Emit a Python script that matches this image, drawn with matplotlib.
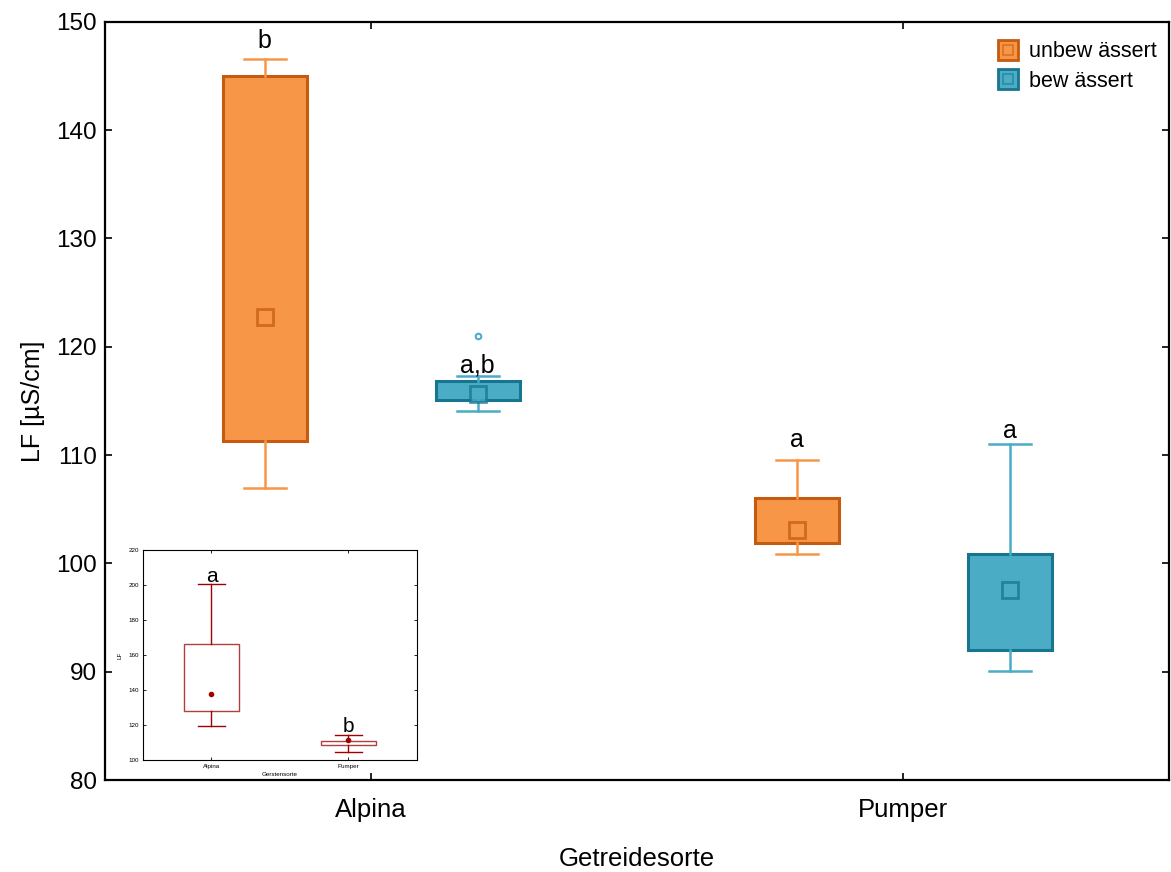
import matplotlib
matplotlib.use("Agg")
import matplotlib.pyplot as plt
from matplotlib.legend_handler import HandlerTuple
from matplotlib.lines import Line2D

plt.rcParams['font.family'] = ['Liberation Sans', 'DejaVu Sans']

# ---- data (main chart) ----
categories = ["Alpina", "Pumper"]
groups = ["unbew ässert", "bew ässert"]
# per group, per category
whisker_low = {"unbew ässert": [107.0, 100.9], "bew ässert": [114.1, 90.1]}
q1 = {"unbew ässert": [111.3, 101.9], "bew ässert": [115.1, 92.0]}
mean = {"unbew ässert": [122.7, 103.1], "bew ässert": [115.65, 97.55]}
q3 = {"unbew ässert": [145.0, 106.0], "bew ässert": [116.85, 100.9]}
whisker_high = {"unbew ässert": [146.6, 109.5], "bew ässert": [117.3, 111.0]}
outliers = {"unbew ässert": [[], []], "bew ässert": [[121.0], []]}
letters = {"unbew ässert": ["b", "a"], "bew ässert": ["a,b", "a"]}

# ---- data (inset chart) ----
inset_categories = ["Alpina", "Pumper"]
inset_whisker_low = [119.2, 104.8]
inset_q1 = [128.2, 108.4]
inset_mean = [137.5, 111.2]
inset_q3 = [166.3, 111.0]
inset_whisker_high = [200.4, 114.3]
inset_letters = ["a", "b"]

fill = {"unbew ässert": "#F79646", "bew ässert": "#4BACC6"}
edge = {"unbew ässert": "#C55A11", "bew ässert": "#17758F"}
offsets = {"unbew ässert": -0.2, "bew ässert": 0.2}
letter_pad = {"unbew ässert": [4, 6], "bew ässert": [-1, 1]}

fig = plt.figure(figsize=(11.71, 8.72), dpi=100)
ax = fig.add_axes([0.0897, 0.1055, 0.909, 0.8695])

for g in groups:
    stats = []
    for i in range(len(categories)):
        stats.append(dict(whislo=whisker_low[g][i], q1=q1[g][i], med=q1[g][i],
                          q3=q3[g][i], whishi=whisker_high[g][i], mean=mean[g][i],
                          fliers=outliers[g][i]))
    pos = [i + offsets[g] for i in range(len(categories))]
    ax.bxp(stats, positions=pos, widths=0.158, patch_artist=True, showmeans=True,
           showfliers=True, manage_ticks=False,
           boxprops=dict(facecolor=fill[g], edgecolor=edge[g], linewidth=2.2),
           whiskerprops=dict(color=fill[g], linewidth=1.8),
           capprops=dict(color=fill[g], linewidth=1.8),
           capwidths=0.079,
           medianprops=dict(linewidth=0),
           meanprops=dict(marker='s', markersize=11, markerfacecolor=fill[g],
                          markeredgecolor=edge[g], markeredgewidth=2, alpha=0.75),
           flierprops=dict(marker='o', markersize=4, markerfacecolor='white',
                           markeredgecolor=fill[g], markeredgewidth=1.5))
    for i in range(len(categories)):
        ax.annotate(letters[g][i], (i + offsets[g], whisker_high[g][i]),
                    xytext=(0, letter_pad[g][i]), textcoords='offset points',
                    ha='center', va='bottom', fontsize=18)

ax.set_xlim(-0.5, 1.5)
ax.set_ylim(80, 150)
ax.set_xticks(range(len(categories)))
ax.set_xticklabels(categories)
ax.set_yticks(range(80, 151, 10))
ax.tick_params(direction='in', length=5, width=1.2, labelsize=17.5, top=True, right=True, pad=6)
ax.tick_params(axis='x', labelsize=18.5, pad=13)
for s in ax.spines.values():
    s.set_linewidth(1.6)
ax.set_ylabel("LF [µS/cm]", fontsize=18, labelpad=8)
ax.set_xlabel("Getreidesorte", fontsize=18.5, labelpad=18)

handles = []
for g in groups:
    outer = Line2D([], [], marker='s', markersize=15, markerfacecolor=fill[g],
                   markeredgecolor=edge[g], markeredgewidth=2, linestyle='none')
    inner = Line2D([], [], marker='s', markersize=7, markerfacecolor=fill[g],
                   markeredgecolor=edge[g], markeredgewidth=1.2, linestyle='none', alpha=0.6)
    handles.append((outer, inner))
ax.legend(handles, groups, handler_map={tuple: HandlerTuple(ndivide=1)},
          loc='upper right', frameon=False, fontsize=15.5, handlelength=1.0,
          handletextpad=0.45, labelspacing=0.4, borderaxespad=0.5,
          bbox_to_anchor=(1.006, 1.0))

# ---- inset ----
ia = fig.add_axes([0.1221, 0.1284, 0.234, 0.2408])
red = "#A00000"
istats = []
for i in range(len(inset_categories)):
    istats.append(dict(whislo=inset_whisker_low[i], q1=inset_q1[i], med=inset_q1[i],
                       q3=inset_q3[i], whishi=inset_whisker_high[i], mean=inset_mean[i],
                       fliers=[]))
ia.bxp(istats, positions=range(len(inset_categories)), widths=0.4, patch_artist=True,
       showmeans=True, manage_ticks=False,
       boxprops=dict(facecolor='white', edgecolor='#B04040', linewidth=1.0),
       whiskerprops=dict(color=red, linewidth=1.0),
       capprops=dict(color=red, linewidth=1.0), capwidths=0.2,
       medianprops=dict(linewidth=0),
       meanprops=dict(marker='o', markersize=3, markerfacecolor=red, markeredgecolor=red))
for i in range(len(inset_categories)):
    ia.annotate(inset_letters[i], (i, inset_whisker_high[i]), xytext=(0, -1),
                textcoords='offset points', ha='center', va='bottom', fontsize=15)
ia.set_xlim(-0.5, 1.5)
ia.set_ylim(100, 220)
ia.set_xticks(range(len(inset_categories)))
ia.set_xticklabels(inset_categories)
ia.set_yticks(range(100, 221, 20))
ia.tick_params(direction='in', length=2, width=0.6, labelsize=4.5, top=True, right=True, pad=3)
for s in ia.spines.values():
    s.set_linewidth(0.8)
ia.set_ylabel("LF", fontsize=4.5, labelpad=4)
ia.set_xlabel("Gerstensorte", fontsize=4.5, labelpad=2)

fig.savefig("out.png", dpi=100)
